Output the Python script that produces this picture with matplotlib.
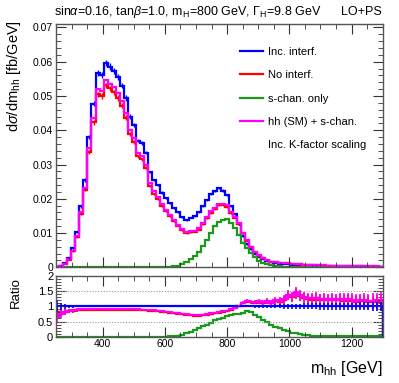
import numpy as np
import matplotlib.pyplot as plt
from matplotlib.lines import Line2D
from matplotlib.ticker import MultipleLocator, FixedLocator, FuncFormatter

plt.rcParams['font.family'] = ['Liberation Sans', 'DejaVu Sans']
plt.rcParams['mathtext.fontset'] = 'custom'
plt.rcParams['mathtext.rm'] = 'Liberation Sans'
plt.rcParams['mathtext.it'] = 'Liberation Sans:italic'

# 13 GeV bins from 247 to 1300 GeV
edges = np.arange(247, 1301, 13)

# d sigma / d m_hh [fb/GeV], one value per bin
inc_interf = [
    0.0002, 0.0005, 0.0013, 0.0027, 0.0056, 0.0103, 0.0178, 0.0255, 0.0381, 0.0478,
    0.0567, 0.0562, 0.0597, 0.0586, 0.0574, 0.0555, 0.0530, 0.0494, 0.0440, 0.0415,
    0.0370, 0.0362, 0.0335, 0.0278, 0.0255, 0.0240, 0.0218, 0.0203, 0.0188, 0.0174,
    0.0160, 0.0146, 0.0138, 0.0145, 0.0150, 0.0160, 0.0178, 0.0197, 0.0213, 0.0222,
    0.0231, 0.0224, 0.0210, 0.0180, 0.0155, 0.0125, 0.0090, 0.0068, 0.0052, 0.0040,
    0.0030, 0.0024, 0.0019, 0.0015, 0.0013, 0.0011, 0.0010, 0.0009, 0.0008, 0.0007,
    0.00066, 0.00062, 0.00058, 0.00054, 0.0005, 0.00047, 0.00044, 0.00041, 0.00038, 0.00036,
    0.00034, 0.00032, 0.0003, 0.00028, 0.00026, 0.00025, 0.00023, 0.00022, 0.00021, 0.0002,
    0.00019,
]
no_interf = [
    0.000156, 0.0004, 0.00107, 0.00227, 0.00476, 0.0089, 0.0156, 0.0226, 0.0337, 0.0423,
    0.0505, 0.0500, 0.0531, 0.0522, 0.0511, 0.0494, 0.0472, 0.0437, 0.0389, 0.0365,
    0.0324, 0.0315, 0.0290, 0.0238, 0.0215, 0.0200, 0.0179, 0.0163, 0.0149, 0.0134,
    0.0121, 0.0108, 0.0100, 0.0102, 0.0104, 0.0110, 0.0125, 0.0143, 0.0159, 0.0170,
    0.0181, 0.0183, 0.0177, 0.0159, 0.0145, 0.0125, 0.0099, 0.0078, 0.0059, 0.0045,
    0.0034, 0.00266, 0.0022, 0.00165, 0.00153, 0.00127, 0.00122, 0.00121, 0.00104, 0.0010,
    0.00088, 0.00079, 0.00072, 0.00066, 0.00063, 0.00057, 0.00054, 0.00049, 0.00046, 0.00043,
    0.00041, 0.00038, 0.00036, 0.00033, 0.0003, 0.00029, 0.00027, 0.00025, 0.00024, 0.00023,
    0.00022,
]
s_chan = [
    0, 0, 0, 0, 0, 0, 0, 0, 0, 0,
    0, 0, 0, 0, 0, 0, 0, 0, 0, 0,
    0.00001, 0.00001, 0.00002, 0.00002, 0.00003, 0.00004, 0.00006, 0.0001, 0.00016, 0.00028,
    0.0005, 0.0009, 0.0015, 0.0023, 0.0033, 0.0045, 0.0061, 0.0079, 0.0099, 0.0120,
    0.0133, 0.0139, 0.0140, 0.0128, 0.0115, 0.0095, 0.0071, 0.0057, 0.0042, 0.0029,
    0.0019, 0.0013, 0.0009, 0.0006, 0.00043, 0.00031, 0.00023, 0.00016, 0.00011, 0.00008,
    0.00005, 0.00004, 0.00003, 0.00002, 0.000015, 0.000012, 0.00001, 0.00001, 0.000009, 0.000008,
    0.000008, 0.000007, 0.000006, 0.000006, 0.000005, 0.000005, 0.000005, 0.000004, 0.000004, 0.000004,
    0.000004,
]
sm_plus_s = [
    0.00013, 0.00038, 0.00107, 0.0023, 0.00487, 0.00917, 0.0160, 0.0232, 0.0347, 0.0437,
    0.0519, 0.0514, 0.0546, 0.0536, 0.0525, 0.0508, 0.0485, 0.0450, 0.0400, 0.0376,
    0.0333, 0.0324, 0.0298, 0.0245, 0.0222, 0.0206, 0.0184, 0.0168, 0.0152, 0.0137,
    0.0124, 0.0111, 0.0103, 0.0105, 0.0107, 0.0114, 0.0129, 0.0147, 0.0163, 0.0174,
    0.0185, 0.0186, 0.0181, 0.0162, 0.0147, 0.0128, 0.0101, 0.0080, 0.0060, 0.0046,
    0.00348, 0.00271, 0.00224, 0.00168, 0.00156, 0.0013, 0.00125, 0.00124, 0.00106, 0.00102,
    0.0009, 0.00081, 0.00074, 0.00068, 0.00064, 0.00058, 0.00055, 0.0005, 0.00047, 0.00044,
    0.00042, 0.00039, 0.00037, 0.00034, 0.00031, 0.0003, 0.00028, 0.00026, 0.00025, 0.00024,
    0.00023,
]
# relative statistical uncertainty per bin
rel_err = [
    0.20, 0.12, 0.08, 0.06, 0.045, 0.035, 0.025, 0.02, 0.015, 0.015,
    0.015, 0.015, 0.015, 0.015, 0.015, 0.015, 0.015, 0.015, 0.015, 0.015,
    0.015, 0.015, 0.015, 0.015, 0.015, 0.015, 0.015, 0.015, 0.015, 0.015,
    0.015, 0.015, 0.015, 0.015, 0.015, 0.015, 0.015, 0.015, 0.015, 0.015,
    0.015, 0.015, 0.015, 0.015, 0.015, 0.02, 0.025, 0.03, 0.035, 0.04,
    0.045, 0.05, 0.055, 0.06, 0.065, 0.07, 0.075, 0.08, 0.085, 0.09,
    0.09, 0.095, 0.095, 0.10, 0.10, 0.105, 0.105, 0.11, 0.11, 0.115,
    0.115, 0.12, 0.12, 0.125, 0.125, 0.13, 0.13, 0.135, 0.14, 0.145,
    0.15,
]

blue = np.array(inc_interf)
red = np.array(no_interf)
green = np.array(s_chan)
mag = np.array(sm_plus_s)
rel = np.array(rel_err)
centers = 0.5 * (edges[:-1] + edges[1:])

c_blue, c_red, c_green, c_mag = '#0000ff', '#ff0000', '#1a9a1a', '#ff00ff'
lw = 1.6

fig = plt.figure(figsize=(3.99, 3.83), dpi=100)
ax = fig.add_axes([0.1404, 0.3021, 0.8186, 0.6352])
ax2 = fig.add_axes([0.1404, 0.1209, 0.8186, 0.1585])

# main panel
ax.errorbar(centers, blue, yerr=rel * blue, fmt='none', ecolor=c_blue, elinewidth=1)
ax.stairs(blue, edges, color=c_blue, lw=lw)
ax.errorbar(centers, red, yerr=rel * red, fmt='none', ecolor=c_red, elinewidth=1)
ax.stairs(red, edges, color=c_red, lw=lw)
ax.stairs(green, edges, color=c_green, lw=lw)
ax.stairs(mag, edges, color=c_mag, lw=lw)

ax.set_xlim(250, 1300)
ax.set_ylim(0, 0.071)
ax.xaxis.set_major_locator(MultipleLocator(200))
ax.xaxis.set_minor_locator(MultipleLocator(50))
ax.yaxis.set_major_locator(MultipleLocator(0.01))
ax.yaxis.set_minor_locator(MultipleLocator(0.002))
ax.yaxis.set_major_formatter(FuncFormatter(lambda v, p: '0' if abs(v) < 1e-9 else f'{v:.2f}'))
ax.tick_params(labelbottom=False)

handles = [
    Line2D([], [], color=c_blue, lw=lw),
    Line2D([], [], color=c_red, lw=lw),
    Line2D([], [], color=c_green, lw=lw),
    Line2D([], [], color=c_mag, lw=lw),
    Line2D([], [], color='none', lw=0),
]
labels = ['Inc. interf.', 'No interf.', 's-chan. only', 'hh (SM) + s-chan.', 'Inc. K-factor scaling']
fig.legend(handles, labels, loc='upper left', bbox_to_anchor=(240 / 399, 1 - 47 / 383),
           frameon=False, fontsize=8, handlelength=2.05, handletextpad=0.47,
           labelspacing=1.2, borderpad=0, borderaxespad=0)

# ratio panel
r_red = red / blue
r_mag = mag / blue
r_green = green / blue
ones = blue / blue

ax2.axhline(0.5, color='#999999', lw=0.8, ls=(0, (1, 1.5)))
ax2.axhline(1.5, color='#999999', lw=0.8, ls=(0, (1, 1.5)))
ax2.errorbar(centers, r_red, yerr=r_red * rel * 1.41, fmt='none', ecolor=c_red, elinewidth=1.2)
ax2.stairs(r_red, edges, color=c_red, lw=lw)
ax2.errorbar(centers, r_mag, yerr=r_mag * rel * 1.41, fmt='none', ecolor=c_mag, elinewidth=1.2)
ax2.stairs(r_mag, edges, color=c_mag, lw=lw)
ax2.stairs(r_green, edges, color=c_green, lw=lw)
ax2.errorbar(centers, ones, yerr=rel, fmt='none', ecolor=c_blue, elinewidth=1.2)
ax2.stairs(ones, edges, color=c_blue, lw=lw)

ax2.set_xlim(250, 1300)
ax2.set_ylim(0, 2)
ax2.xaxis.set_major_locator(MultipleLocator(200))
ax2.xaxis.set_minor_locator(MultipleLocator(50))
ax2.yaxis.set_major_locator(FixedLocator([0, 0.5, 1, 1.5, 2]))
ax2.yaxis.set_minor_locator(MultipleLocator(0.1))
ax2.set_yticklabels(['0', '0.5', '1', '1.5', '2'])

for a, ysize in ((ax, 7.5), (ax2, 8)):
    a.tick_params(which='both', direction='in', top=True, right=True, color='#333333')
    a.tick_params(which='major', length=7, pad=2)
    a.tick_params(which='minor', length=3.5)
    a.tick_params(axis='y', labelsize=ysize)
    a.tick_params(axis='x', labelsize=7.5)
    for s in a.spines.values():
        s.set_color('#555555')
        s.set_linewidth(1.0)

# labels and header
fig.text(14 / 399, 1 - 20 / 383, r'd$\sigma$/dm$_{\rm hh}$ [fb/GeV]', rotation=90,
         ha='center', va='top', fontsize=10.5)
fig.text(16 / 399, 1 - 277 / 383, 'Ratio', rotation=90, ha='center', va='top', fontsize=9.5)
fig.text(383 / 399, 1 - 373 / 383, r'm$_{\rm hh}$ [GeV]', ha='right', va='baseline', fontsize=11.5)
fig.text(54 / 399, 1 - 15 / 383,
         r'sin$\alpha$=0.16, tan$\beta$=1.0, m$_{\rm H}$=800 GeV, $\Gamma_{\rm H}$=9.8 GeV',
         ha='left', va='baseline', fontsize=9)
fig.text(382 / 399, 1 - 15 / 383, 'LO+PS', ha='right', va='baseline', fontsize=9)

fig.savefig('out.png', dpi=100)
